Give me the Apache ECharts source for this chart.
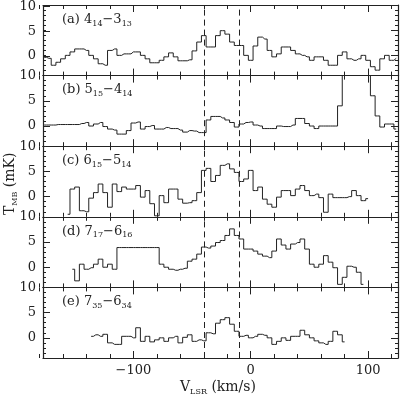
<!DOCTYPE html>
<html>
<head>
<meta charset="utf-8">
<script src="https://cdn.jsdelivr.net/npm/echarts@6/dist/echarts.min.js"></script>
<style>
  html, body { margin: 0; padding: 0; background: #fff; }
  #chart { width: 400px; height: 398px; }
</style>
</head>
<body>
<div id="chart"></div>
<script>
// channel grid (km/s)
const chanWidth = 4;

// panel (a) 4_14-3_13
const startA = -176;
const valuesA = [-0.3,-0.5,-1.9,-1.3,-0.6,0.1,0.8,1.4,1.4,1.1, 0.1,-0.6,-1.6,-1.9,1.1,1.4,0.1,0.4,0.4,0.8,
  0.8,0.1,-0.6,-1.4,-1.4,-0.9,-0.2,0.6,-0.2,-1.0, -1.0,-0.8,1.0,2.8,4.1,1.8,1.8,4.1,5.1,4.4,
  2.8,2.1,2.1,0.1,-0.9,2.0,3.8,3.4,1.1,-0.2, 0.4,1.8,1.8,1.1,0.4,0.1,-0.2,-0.9,-0.2,-0.2,
  -0.9,-1.9,-1.9,0.1,0.8,-0.6,-0.9,-0.6,0.1,-0.9, -2.2,-2.9,-0.6,0.1,-0.9,-0.5];

// panel (b) 5_15-4_14
const startB = -176;
const valuesB = [0.2,0.2,0.2,0.3,0.3,0.3,0.3,0.3,0.5,0.7, 0,0.4,0.7,-0.1,-0.6,-0.8,-1.6,-1.6,-0.9,0.6,
  0.8,-0.6,-0.1,0.1,-0.6,-0.6,-0.3,-0.5,-0.5,-0.8, -1.2,-0.9,-1.0,-1.3,-1.3,1.2,1.9,1.9,1.6,1.2,
  0.7,-0.2,0.4,0.7,0.8,0.2,0,-0.5,-0.5,-0.5, 0,-0.1,-0.1,0.2,1.5,1.5,0.5,0,-0.5,0,
  0,0,0,4,12,12,12,12,12,12, 6,2,-0.2,0.4,0.4,-0.6];

// panel (c) 6_15-5_14
const startC = -156;
const valuesC = [-3.5,1.5,1.9,-2.8,-3.0, -0.3,0.8,2.5,0.8,-2.1, 2.5,1.0,1.9,1.5,1.5,
  2.2,-0.1,1.2,-1.4,-3.8, 0.2,-1.2,1.5,1.5,-0.5, -1.3,-1.2,-0.8,0.8,5.2,
  5.6,3.0,4.2,6.2,6.5, 5.5,4.8,3.0,3.5,5.2, 1.2,1.9,-0.5,-1.5,-2.1,
  -0.1,1.2,1.2,0.2,1.5, 2.2,1.2,0.2,0.5,-0.2, -3.1,0.5,-0.2,-0.2,-0.2, 0,1.2,0.2,-0.8,-0.4];

// panel (d) 7_17-6_16
const startD = -152;
const valuesD = [-0.4,-2.7,0.6,-0.4,-0.1,0.6,1.6,0,0.6,-0.4,
  3.9,3.9,3.9,3.9,3.9,3.9,3.9,3.9,3.9,0.6,
  0,-0.4,-0.6,-0.4,-0.2,1.2,1.6,2.6,4.0,3.8,
  4.2,4.9,5.3,6.3,7.6,6.3,5.6,3.6,3.6,3.2,
  2.6,2.2,1.9,3.2,5.6,4.4,3.6,4.6,4.9,5.6,
  3.6,0.6,0,0.6,2.3,1.0,-0.1,-3.4,-2.0,0.2, 0,-1.0,-3.4];

// panel (e) 7_35-6_34
const startE = -136;
const valuesE = [0.3,0.6,0.3,0.7,-1.0,-1.3,-1.3,0.3,0.3,0,
  2.0,-0.7,0.3,-0.8,-0.4,0,-0.7,0,0.3,-1.0,
  0.1,0.6,-0.7,-0.4,-0.6,1.0,0.8,2.9,3.6,4.0,
  2.7,1.3,0.3,0.5,0,0.3,0.7,0.5,0,-1.3,
  -0.7,0,-0.5,0.3,0.3,1.5,0.6,0,-0.6,-1.0, -1.3,-0.7,1.3,0.6,-0.8];

const panelLabels = [
  '(a) 4{s|14}\u22123{s|13}',
  '(b) 5{s|15}\u22124{s|14}',
  '(c) 6{s|15}\u22125{s|14}',
  '(d) 7{s|17}\u22126{s|16}',
  '(e) 7{s|35}\u22126{s|34}'
];
const panelStarts = [startA, startB, startC, startD, startE];
const panelValues = [valuesA, valuesB, valuesC, valuesD, valuesE];

// dashed reference velocities
const markVelocities = [-40, -10];

// axis ranges and ticks
const xMin = -177, xMax = 125.5;
const yMin = -4, yMax = 10;
const xMajorTicks = [-100, 0, 100];
const yMajorTicks = [0, 5, 10];
// minor ticks drawn by plain interval axes (their min must be a multiple of the interval)
const xTickMin = -180, xTickStep = 20;
const yTickStep = 1;

const FONT = 'DejaVu Serif';
const INK = '#222';

const chart = echarts.init(document.getElementById('chart'), null, { renderer: 'canvas' });

const panelTop = 5, panelH = 70.6;
const plotLeft = 43, plotRight = 2;
// shift the x tick grid so that xMin still sits on the frame
const pxPerKms = (400 - plotLeft - plotRight) / (xMax - xMin);
const tickGridLeft = plotLeft - (xMin - xTickMin) * pxPerKms;

const grids = [], xAxes = [], yAxes = [], series = [], graphics = [];

function xAxis(g, pos, ticks, len, line, labels) {
  return {
    type: 'value', gridIndex: g, position: pos, min: xMin, max: xMax,
    axisLine: { show: line, onZero: false, lineStyle: { color: INK, width: 1.2 } },
    axisTick: { show: true, inside: true, length: len, customValues: ticks, lineStyle: { color: INK, width: 1 } },
    axisLabel: labels ? {
      show: true, customValues: xMajorTicks, margin: 6, color: INK, fontFamily: FONT, fontSize: 13,
      formatter: v => (v < 0 ? '\u2212' + Math.abs(v) : String(v))
    } : { show: false },
    splitLine: { show: false }
  };
}

function yAxis(g, pos, ticks, len, line, labels) {
  return {
    type: 'value', gridIndex: g, position: pos, min: yMin, max: yMax,
    axisLine: { show: line, onZero: false, lineStyle: { color: INK, width: 1.2 } },
    axisTick: { show: true, inside: true, length: len, customValues: ticks, lineStyle: { color: INK, width: 1 } },
    axisLabel: labels ? {
      show: true, customValues: yMajorTicks, margin: 7, color: INK, fontFamily: FONT, fontSize: 13
    } : { show: false },
    splitLine: { show: false }
  };
}

function hiddenAxis(g, min, max) {
  return { type: 'value', gridIndex: g, min: min, max: max, show: false };
}

function tickXAxis(g, pos) {
  return {
    type: 'value', gridIndex: g, position: pos, min: xTickMin, max: xMax, interval: xTickStep,
    axisLine: { show: false, onZero: false },
    axisTick: { show: true, inside: true, length: 4, lineStyle: { color: INK, width: 1 } },
    axisLabel: { show: false }, splitLine: { show: false }
  };
}

function tickYAxis(g, pos) {
  return {
    type: 'value', gridIndex: g, position: pos, min: yMin, max: yMax, interval: yTickStep,
    axisLine: { show: false, onZero: false },
    axisTick: { show: true, inside: true, length: 3, lineStyle: { color: INK, width: 1 } },
    axisLabel: { show: false }, splitLine: { show: false }
  };
}

for (let k = 0; k < 5; k++) {
  const top = panelTop + panelH * k;
  const g0 = grids.length;
  // main grid (data, frame bottom/left) and frame top/right
  grids.push({ left: plotLeft, right: plotRight, top: top, height: panelH });
  grids.push({ left: plotLeft, right: plotRight, top: top, height: panelH });
  // y minor ticks, left and right
  grids.push({ left: plotLeft, right: plotRight, top: top, height: panelH });
  grids.push({ left: plotLeft, right: plotRight, top: top, height: panelH });
  // x minor ticks, bottom and top
  grids.push({ left: tickGridLeft, right: plotRight, top: top, height: panelH });
  grids.push({ left: tickGridLeft, right: plotRight, top: top, height: panelH });

  xAxes.push(xAxis(g0, 'bottom', xMajorTicks, 7, true, k === 4));
  yAxes.push(yAxis(g0, 'left', yMajorTicks, 7, true, true));
  xAxes.push(xAxis(g0 + 1, 'top', xMajorTicks, 7, true, false));
  yAxes.push(yAxis(g0 + 1, 'right', yMajorTicks, 7, true, false));

  xAxes.push(hiddenAxis(g0 + 2, xMin, xMax));
  yAxes.push(tickYAxis(g0 + 2, 'left'));
  xAxes.push(hiddenAxis(g0 + 3, xMin, xMax));
  yAxes.push(tickYAxis(g0 + 3, 'right'));

  xAxes.push(tickXAxis(g0 + 4, 'bottom'));
  yAxes.push(hiddenAxis(g0 + 4, yMin, yMax));
  xAxes.push(tickXAxis(g0 + 5, 'top'));
  yAxes.push(hiddenAxis(g0 + 5, yMin, yMax));

  const data = panelValues[k].map((t, i) => [panelStarts[k] + chanWidth * i, t]);
  series.push({
    type: 'line', xAxisIndex: g0, yAxisIndex: g0,
    data: data, step: 'middle', symbol: 'none', clip: true,
    lineStyle: { color: INK, width: 1 },
    markLine: {
      silent: true, symbol: 'none', label: { show: false },
      lineStyle: { color: INK, width: 1, type: [6, 4] },
      data: markVelocities.map(v => ({ xAxis: v }))
    }
  });

  graphics.push({
    type: 'text', left: 62, top: top + 8,
    style: {
      text: panelLabels[k], fill: INK, fontFamily: FONT, fontSize: 13,
      rich: { s: { fontFamily: FONT, fontSize: 8, fill: INK, padding: [8, 0, 0, 0] } }
    }
  });
}

// axis titles
graphics.push({
  type: 'text', left: 180, top: 380,
  style: {
    text: 'V{s|LSR} (km/s)', fill: INK, fontFamily: FONT, fontSize: 14,
    rich: { s: { fontFamily: FONT, fontSize: 8, fill: INK, padding: [9, 0, 0, 0] } }
  }
});
graphics.push({
  type: 'text', x: 2, y: 215, rotation: Math.PI / 2,
  style: {
    text: 'T{s|MB} (mK)', fill: INK, fontFamily: FONT, fontSize: 14,
    rich: { s: { fontFamily: FONT, fontSize: 8, fill: INK, padding: [9, 0, 0, 0] } }
  }
});

chart.setOption({
  animation: false,
  grid: grids,
  xAxis: xAxes,
  yAxis: yAxes,
  series: series,
  graphic: graphics
});
</script>
</body>
</html>
